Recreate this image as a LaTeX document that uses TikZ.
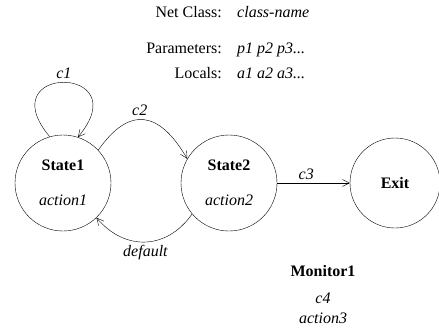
\documentclass[tikz,border=0pt]{standalone}
\usepackage{fontspec}
\setmainfont{Liberation Serif}
\usetikzlibrary{arrows.meta,positioning}
\tikzset{
>={Straight Barb[length=7pt,width=7pt]},
node distance=166pt,
state node/.style={circle,draw,thin,minimum size=96pt,inner sep=0pt,align=center},
transition/.style={->,thin},
cond/.style={execute at begin node=\itshape},
header/.style={inner sep=0pt}}

\begin{document}
\begin{tikzpicture}[font=\fontsize{16}{19}\selectfont]

\useasboundingbox (0,0) rectangle (439pt,-330pt);

% net class header
\node[header,anchor=base east] (classkey) at (222pt,-17pt) {Net Class:};
\node[header,cond,anchor=base west] (classval) at (237pt,-17pt) {class-name};
\node[header,anchor=base east] (parkey) at (222pt,-53pt) {Parameters:};
\node[header,cond,anchor=base west] (parval) at (237pt,-53pt) {p1 p2 p3...};
\node[header,anchor=base east] (lockey) at (222pt,-78pt) {Locals:};
\node[header,cond,anchor=base west] (locval) at (237pt,-78pt) {a1 a2 a3...};

% states
\node[state node] (s1) at (63pt,-183pt) {\textbf{State1}\\[16pt]\textit{action1}};
\node[state node] (s2) [right of=s1] {\textbf{State2}\\[16pt]\textit{action2}};
\node[state node,minimum size=90pt] (exit) [right of=s2] {\textbf{Exit}};

% transitions
\draw[transition] (s1.106) to[out=130,in=50,distance=95pt]
	node[above,cond] (c1) {c1} (s1.72);
\draw[transition] (s1.43) to[out=55,in=120,distance=55pt]
	node[above,cond,pos=0.45] (c2) {c2} (s2.150);
\draw[transition] (s2.220) to[out=235,in=-50,distance=44pt]
	node[below,cond] (dflt) {default} (s1.-46);
\draw[transition] (s2) -- node[above,cond,pos=0.4] (c3) {c3} (exit);

% monitor
\node[header,anchor=base] (mon) at (323pt,-276pt) {\textbf{Monitor1}};
\node[header,cond,anchor=base] (moncond) at (323pt,-303pt) {c4};
\node[header,cond,anchor=base] (monact) at (323pt,-323pt) {action3};
\end{tikzpicture}
\end{document}
